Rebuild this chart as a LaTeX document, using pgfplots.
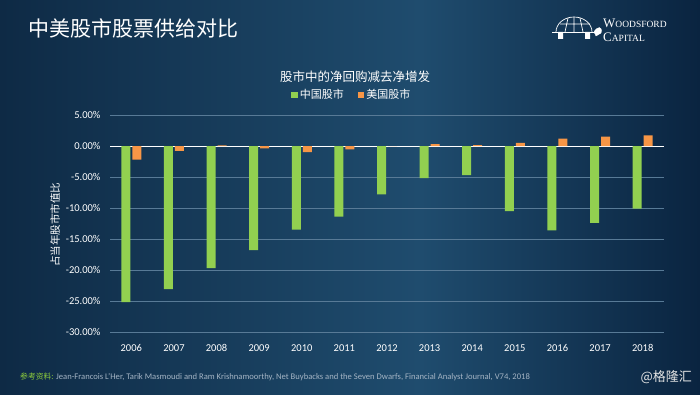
\documentclass[border=0pt]{standalone}
\usepackage{pgfplots}
\pgfplotsset{compat=1.18}
\usepackage{pgfplotstable}
\usepackage{fontspec}
\setmainfont{Carlito}
\newfontfamily\cjk{Noto Sans CJK SC}
\newfontfamily\logofont{Liberation Serif}
\definecolor{bgL}{HTML}{0E2A45}
\definecolor{bgM}{HTML}{1F4C6E}
\definecolor{bgR}{HTML}{0A2440}
\definecolor{cnG}{HTML}{92D050}
\definecolor{usO}{HTML}{F79646}
\definecolor{gridc}{HTML}{587A96}
\definecolor{foot}{HTML}{A4B4C4}
\definecolor{srcG}{HTML}{8CCB3C}

\pgfplotstableread{
x cn us
0 -25.2 -2.2
1 -23.1 -0.8
2 -19.7 0.1
3 -16.8 -0.4
4 -13.5 -1.0
5 -11.4 -0.55
6 -7.8 0.0
7 -5.2 0.3
8 -4.7 0.15
9 -10.5 0.5
10 -13.6 1.2
11 -12.4 1.5
12 -10.1 1.7
}\datatable

\begin{document}
\begin{tikzpicture}
\shade[left color=bgL, right color=bgM] (0pt,0pt) rectangle (420pt,394pt);
\shade[left color=bgM, right color=bgR] (420pt,0pt) rectangle (700pt,394pt);
\useasboundingbox (0pt,0pt) rectangle (700pt,394pt);

% title
\node[anchor=west, text=white, inner sep=0pt, font=\cjk\fontsize{21}{24}\selectfont] at (28pt,366pt) {中美股市股票供给对比};

% logo
\node[anchor=west, text=white, inner sep=0pt, font=\logofont] at (603pt,371pt) {{\fontsize{13}{14}\selectfont W}{\fontsize{9.5}{10}\selectfont OODSFORD}};
\node[anchor=west, text=white, inner sep=0pt, font=\logofont] at (603pt,357pt) {{\fontsize{13}{14}\selectfont C}{\fontsize{9.5}{10}\selectfont APITAL}};
\draw[white, line width=0.7pt] (556pt,362pt) arc (180:0:18pt and 15pt);
\draw[white, line width=0.7pt] (560pt,370pt) -- (590pt,370pt) (565pt,362pt) -- (568pt,376pt) (574pt,362pt) -- (574pt,377pt) (583pt,362pt) -- (580pt,376pt);
\draw[white, line width=0.7pt] (552pt,362pt) -- (598pt,362pt);
\draw[white, fill=white] (594pt,362pt) .. controls (597pt,368pt) and (603pt,368pt) .. (601pt,361pt) -- (596pt,358pt) -- cycle;
\fill[white] (558pt,362pt) rectangle (563pt,355pt) (585pt,362pt) rectangle (590pt,355pt);

% subtitle
\node[text=white, inner sep=0pt, font=\cjk\fontsize{12.5}{14}\selectfont] at (355pt,317pt) {股市中的净回购减去净增发};

% y label
\node[rotate=90, text=white, inner sep=0pt, font=\cjk\fontsize{10.5}{12}\selectfont] at (55pt,169.5pt) {占当年股市市值比};

\begin{axis}[
  at={(110pt,62pt)}, anchor=south west,
  scale only axis, width=554pt, height=217pt,
  xmin=-0.5, xmax=12.5, ymin=-30, ymax=5,
  ytick={-30,-25,...,5},
  extra y ticks={0}, extra y tick labels={},
  extra y tick style={grid style={white, line width=1pt}},
  ymajorgrids, grid style={gridc, line width=0.8pt},
  axis line style={draw=none},
  major tick length=0pt,
  xtick=data,
  xticklabels={2006,2007,2008,2009,2010,2011,2012,2013,2014,2015,2016,2017,2018},
  xticklabel style={text=white, font=\fontsize{10.5}{12}\selectfont, yshift=-9pt},
  yticklabel style={text=white, font=\fontsize{10.5}{12}\selectfont, xshift=-6pt},
  /pgf/number format/assume math mode=true,
  yticklabel={\pgfmathprintnumber[fixed,fixed zerofill,precision=2]{\tick}\%},
  ybar=2pt, bar width=9pt,
  legend columns=2,
  legend style={at={(0.4368,1.092)}, anchor=center, draw=none, fill=none,
    text=white, font=\cjk\fontsize{11}{12}\selectfont,
    /tikz/every even column/.append style={column sep=12pt}},
]
\addplot[fill=cnG, draw=none, legend image code/.code={\fill[cnG] (0pt,-3.2pt) rectangle (6.5pt,3.3pt);}] table[x=x, y=cn] {\datatable};
\addlegendentry{中国股市}
\addplot[fill=usO, draw=none, legend image code/.code={\fill[usO] (0pt,-3.2pt) rectangle (6.5pt,3.3pt);}] table[x=x, y=us] {\datatable};
\addlegendentry{美国股市}
\end{axis}

% footer
\node[anchor=west, inner sep=0pt, font=\fontsize{8.6}{10}\selectfont] at (20pt,17pt) {{\cjk\fontsize{7.8}{9}\selectfont\color{srcG}参考资料:} \textcolor{foot}{Jean-Francois L'Her, Tarik Masmoudi and Ram Krishnamoorthy, Net Buybacks and the Seven Dwarfs, Financial Analyst Journal, V74, 2018}};
\node[anchor=east, inner sep=0pt, text=white!80!gray, font=\cjk\fontsize{13}{14}\selectfont] at (692pt,17pt) {@格隆汇};
\end{tikzpicture}
\end{document}
